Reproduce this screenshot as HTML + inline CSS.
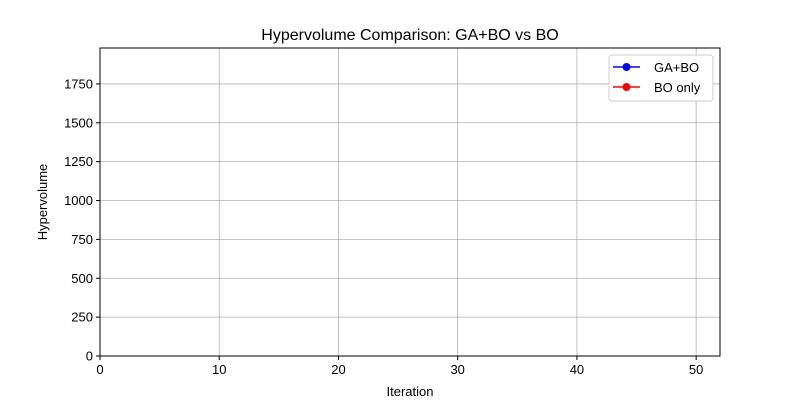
<!DOCTYPE html>
<html><head><meta charset="utf-8"><style>
body{margin:0;background:#fff;}
svg text{font-family:"Liberation Sans","DejaVu Sans",sans-serif;}
</style></head><body>
<svg id="chart" width="800" height="400" viewBox="0 0 800 400">
<rect x="0" y="0" width="800" height="400" fill="#fff"/>
<text x="410" y="40" font-size="16" text-anchor="middle">Hypervolume Comparison: GA+BO vs BO</text>
<g id="grid"></g>
<g id="series"></g>
<rect x="100" y="48" width="620" height="308" fill="none" stroke="#000" stroke-width="1"/>
<g id="ticks"></g>
<text x="410" y="396" font-size="13" text-anchor="middle">Iteration</text>
<text x="47" y="202" font-size="13" text-anchor="middle" transform="rotate(-90 47 202)">Hypervolume</text>
<g>
<rect x="609" y="55" width="104" height="46" rx="3" fill="#fff" stroke="#ccc"/>
<g>
<line x1="613" y1="67" x2="640" y2="67" stroke="#0000ff" stroke-width="1.5"/>
<circle cx="626.5" cy="67" r="4" fill="#0000ff"/>
<text x="654" y="72" font-size="13">GA+BO</text></g>
<g>
<line x1="613" y1="87" x2="640" y2="87" stroke="#ff0000" stroke-width="1.5"/>
<circle cx="626.5" cy="87" r="4" fill="#ff0000"/>
<text x="654" y="92" font-size="13">BO only</text></g>
</g>
</svg>
<script>
const xTicks=[0,10,20,30,40,50];
const yTicks=[0,250,500,750,1000,1250,1500,1750];
const iterations=[];
const gaBoValues=[];
const boOnlyValues=[];
const xMin=0,xMax=52,yMin=0,yMax=1981;
const L=100,R=720,T=48,B=356;
function sx(v){return L+(v-xMin)/(xMax-xMin)*(R-L);}
function sy(v){return B-(v-yMin)/(yMax-yMin)*(B-T);}
const NS="http://www.w3.org/2000/svg";
const grid=document.getElementById('grid'),ticks=document.getElementById('ticks'),series=document.getElementById('series');
function mk(tag,attrs,parent){const e=document.createElementNS(NS,tag);for(const k in attrs)e.setAttribute(k,attrs[k]);parent.appendChild(e);return e;}
xTicks.forEach(v=>{const x=sx(v);
const g=mk('line',{x1:x,y1:T,x2:x,y2:B,stroke:'#b0b0b0','stroke-width':0.8},grid);


mk('line',{x1:x,y1:B,x2:x,y2:B+4,stroke:'#000'},ticks);
const t=mk('text',{x:x,y:B+18,'font-size':13,'text-anchor':'middle'},ticks);t.textContent=v;

});
yTicks.forEach(v=>{const y=sy(v);
const g=mk('line',{x1:L,y1:y,x2:R,y2:y,stroke:'#b0b0b0','stroke-width':0.8},grid);


mk('line',{x1:L-4,y1:y,x2:L,y2:y,stroke:'#000'},ticks);
const t=mk('text',{x:L-7,y:y+4.5,'font-size':13,'text-anchor':'end'},ticks);t.textContent=v;

});
function drawSeries(vals,color,name){
if(!vals.length)return;
const pts=vals.map((v,i)=>sx(iterations[i])+','+sy(v)).join(' ');
const pl=mk('polyline',{points:pts,fill:'none',stroke:color,'stroke-width':1.5},series);


vals.forEach((v,i)=>{const c=mk('circle',{cx:sx(iterations[i]),cy:sy(v),r:4,fill:color},series);

});}
drawSeries(gaBoValues,'#0000ff','ga-bo');
drawSeries(boOnlyValues,'#ff0000','bo-only');
</script>
</body></html>
